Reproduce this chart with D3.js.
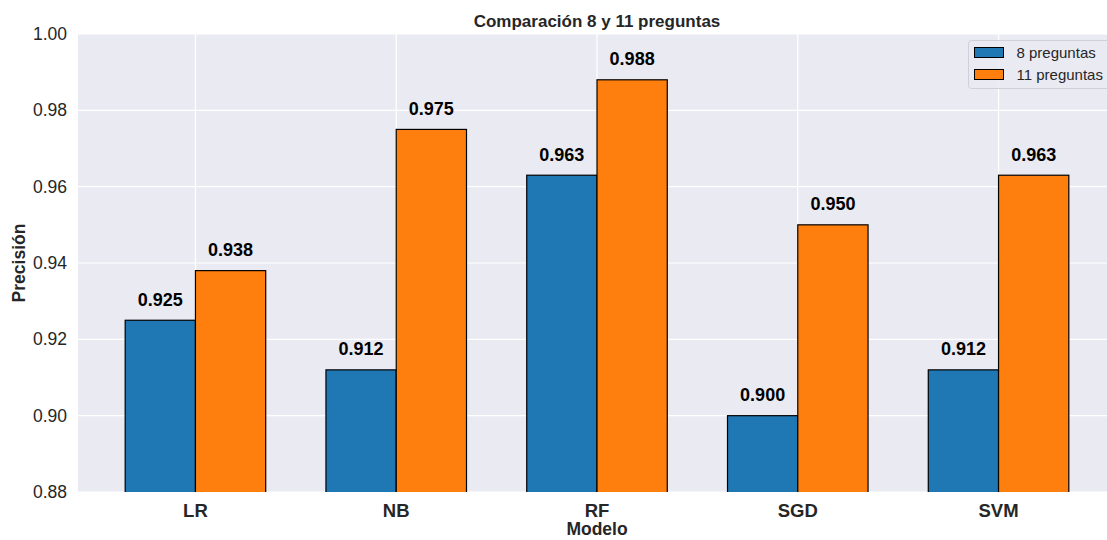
<!DOCTYPE html>
<html><head><meta charset="utf-8">
<script src="https://cdn.jsdelivr.net/npm/d3@7"></script>
<style>body{margin:0;background:#fff;} svg{display:block;font-family:"Liberation Sans",Arial,sans-serif;}</style>
</head><body>
<svg id="c" width="1107" height="540"></svg>
<script>
const categories = ["LR","NB","RF","SGD","SVM"];
const series8 = [0.925,0.912,0.963,0.900,0.912];
const series11 = [0.938,0.975,0.988,0.950,0.963];
const seriesNames = ["8 preguntas","11 preguntas"];
const seriesColors = ["#1f77b4","#ff7f0e"];
const yTicks = [0.88,0.90,0.92,0.94,0.96,0.98,1.00];
const title = "Comparación 8 y 11 preguntas";
const xLabel = "Modelo", yLabel = "Precisión";

const svg = d3.select("#c");
const L=78, R=1116, T=34, B=492;
const barW = 0.35;
const x = d3.scaleLinear().domain([-0.585, 4.585]).range([L,R]);
const y = d3.scaleLinear().domain([0.88,1.0]).range([B,T]);
const unit = x(1)-x(0);

svg.append("rect").attr("x",L).attr("y",T).attr("width",R-L).attr("height",B-T).attr("fill","#eaeaf2");
const defs = svg.append("defs");
defs.append("clipPath").attr("id","pc").append("rect").attr("x",L).attr("y",T).attr("width",R-L).attr("height",B-T);

// grid
const g = svg.append("g").attr("clip-path","url(#pc)");
g.selectAll(".hg").data(yTicks).join("line").attr("x1",L).attr("x2",R).attr("y1",d=>y(d)).attr("y2",d=>y(d)).attr("stroke","#fff").attr("stroke-width",1.2);
g.selectAll(".vg").data(categories).join("line").attr("x1",(d,i)=>x(i)).attr("x2",(d,i)=>x(i)).attr("y1",T).attr("y2",B).attr("stroke","#fff").attr("stroke-width",1.2);

const allSeries=[series8,series11];
allSeries.forEach((s,si)=>{
  const off = si===0 ? -barW : 0;
  g.selectAll(".b"+si).data(s).join("rect")
    .attr("x",(d,i)=>x(i+off)).attr("width",barW*unit)
    .attr("y",d=>y(d)).attr("height",d=>B+2-y(d))
    .attr("fill",seriesColors[si]).attr("stroke","#000").attr("stroke-width",1.2);
  svg.selectAll(".v"+si).data(s).join("text")
    .attr("x",(d,i)=>x(i+off+barW/2)).attr("y",d=>y(d)-14.5)
    .attr("text-anchor","middle").attr("font-size",18).attr("font-weight","bold").attr("fill","#000")
    .text(d=>d.toFixed(3));
});

// y ticks
svg.selectAll(".yt").data(yTicks).join("text").attr("x",67).attr("y",d=>y(d)+6)
  .attr("text-anchor","end").attr("font-size",17.5).attr("fill","#262626").text(d=>d.toFixed(2));
// x ticks
svg.selectAll(".xt").data(categories).join("text").attr("x",(d,i)=>x(i)).attr("y",516.5)
  .attr("text-anchor","middle").attr("font-size",18.5).attr("font-weight","bold").attr("fill","#262626").text(d=>d);

svg.append("text").attr("x",(L+R)/2).attr("y",535).attr("text-anchor","middle").attr("font-size",17.5).attr("font-weight","bold").attr("fill","#262626").text(xLabel);
svg.append("text").attr("transform",`translate(25,${(T+B)/2}) rotate(-90)`).attr("text-anchor","middle").attr("font-size",17.5).attr("font-weight","bold").attr("fill","#262626").text(yLabel);
svg.append("text").attr("x",(L+R)/2).attr("y",26.5).attr("text-anchor","middle").attr("font-size",17).attr("font-weight","bold").attr("fill","#262626").text(title);

// legend
const lg = svg.append("g");
lg.append("rect").attr("x",968.5).attr("y",40.5).attr("width",160).attr("height",48).attr("rx",3)
  .attr("fill","#eaeaf2").attr("fill-opacity",0.8).attr("stroke","#d0d0d8");
seriesNames.forEach((n,i)=>{
  lg.append("rect").attr("x",974.5).attr("y",47.5+i*22).attr("width",29).attr("height",10)
    .attr("fill",seriesColors[i]).attr("stroke","#000").attr("stroke-width",1);
  lg.append("text").attr("x",1016.5).attr("y",58+i*22).attr("font-size",15).attr("fill","#262626").text(n);
});
</script>
</body></html>
